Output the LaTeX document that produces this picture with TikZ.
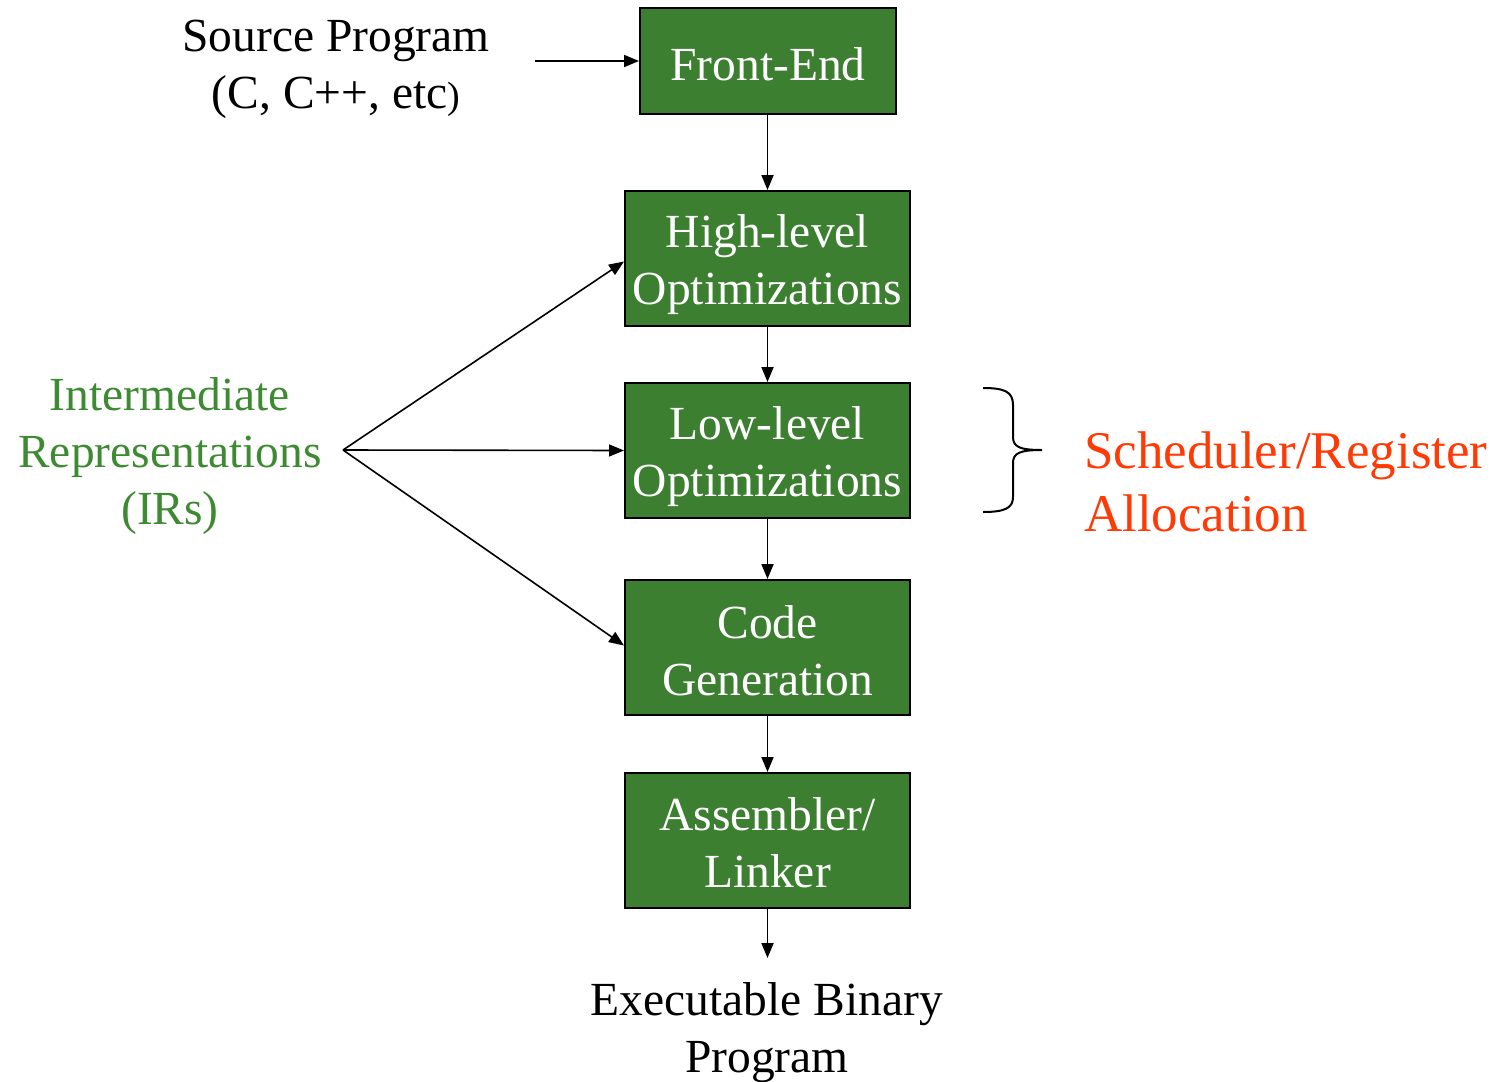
\documentclass[tikz,border=0pt]{standalone}
\usepackage{fontspec}
\setmainfont{Liberation Serif}
\usetikzlibrary{arrows.meta,calc}
\definecolor{boxgreen}{HTML}{3C7F31}
\definecolor{irgreen}{HTML}{3E8A33}
\definecolor{redtxt}{HTML}{FF3A05}
\tikzset{
  stage/.style={draw=black, line width=2pt, fill=boxgreen,
    minimum width=285pt, minimum height=135pt, inner sep=0pt},
  stagetext/.style={text=white, align=center, inner sep=0pt,
    font=\fontsize{47.5}{57}\selectfont},
  arr/.style={line width=1.8pt, -{Triangle[length=15pt,width=12pt]}},
  plain/.style={align=center, inner sep=0pt, font=\fontsize{47.5}{57}\selectfont},
}
\begin{document}
\begin{tikzpicture}[x=1pt,y=-1pt]
\useasboundingbox (0,0) rectangle (1501,1081);
\node[stage, minimum width=256pt, minimum height=106pt] (fe) at (768,61) {};
\node[stage] (hl) at (767.5,258.5) {};
\node[stage] (lo) at (767.5,450.5) {};
\node[stage] (cg) at (767.5,647.5) {};
\node[stage] (as) at (767.5,840.5) {};
\node[stagetext] (fet) at ($(fe.center)+(0,3)$) {Front-End};
\node[stagetext] (hlt) at ($(hl.center)+(0,6)$) {High-level\\Optimizations};
\node[stagetext] (lot) at ($(lo.center)+(0,6)$) {Low-level\\Optimizations};
\node[stagetext] (cgt) at ($(cg.center)+(0,3)$) {Code\\Generation};
\node[stagetext] (ast) at ($(as.center)+(0,2)$) {Assembler/\\Linker};

\node[plain] (src) at (336,69) {Source Program\\(C, C++, etc{\fontsize{38}{57}\selectfont)}};
\node[plain, text=irgreen] (ir) at (170,456) {Intermediate\\Representations\\(IRs)};
\node[plain] (exe) at (767,1033) {Executable Binary\\Program};
\node[align=left, inner sep=0pt, text=redtxt, anchor=west, font=\fontsize{53}{63}\selectfont] (sra) at (1084,482) {Scheduler/Register\\Allocation};

\coordinate (srcend) at (535,61);
\coordinate (irpt) at (343,450);
\coordinate (exetop) at (767.5,958);

\draw[arr] (srcend) -- (fe.west |- srcend);
\draw[arr] (fe.south -| hl.north) -- (hl.north);
\draw[arr] (hl.south) -- (lo.north);
\draw[arr] (lo.south) -- (cg.north);
\draw[arr] (cg.south) -- (as.north);
\draw[arr] (as.south) -- (exetop);

\draw[arr, line width=1.6pt] (irpt) -- ($(hl.west)+(0,3)$);
\draw[arr, line width=1.6pt] (irpt) -- (lo.west);
\draw[arr, line width=1.6pt] (irpt) -- ($(cg.west)+(0,-2)$);

\draw[line width=2pt] (983,388) .. controls (1005,388) and (1013,392) .. (1013,405)
  -- (1013,437) .. controls (1013,447) and (1020,450) .. (1042,450)
  .. controls (1020,450) and (1013,453) .. (1013,463)
  -- (1013,497) .. controls (1013,508) and (1005,512) .. (983,512);
\end{tikzpicture}
\end{document}
